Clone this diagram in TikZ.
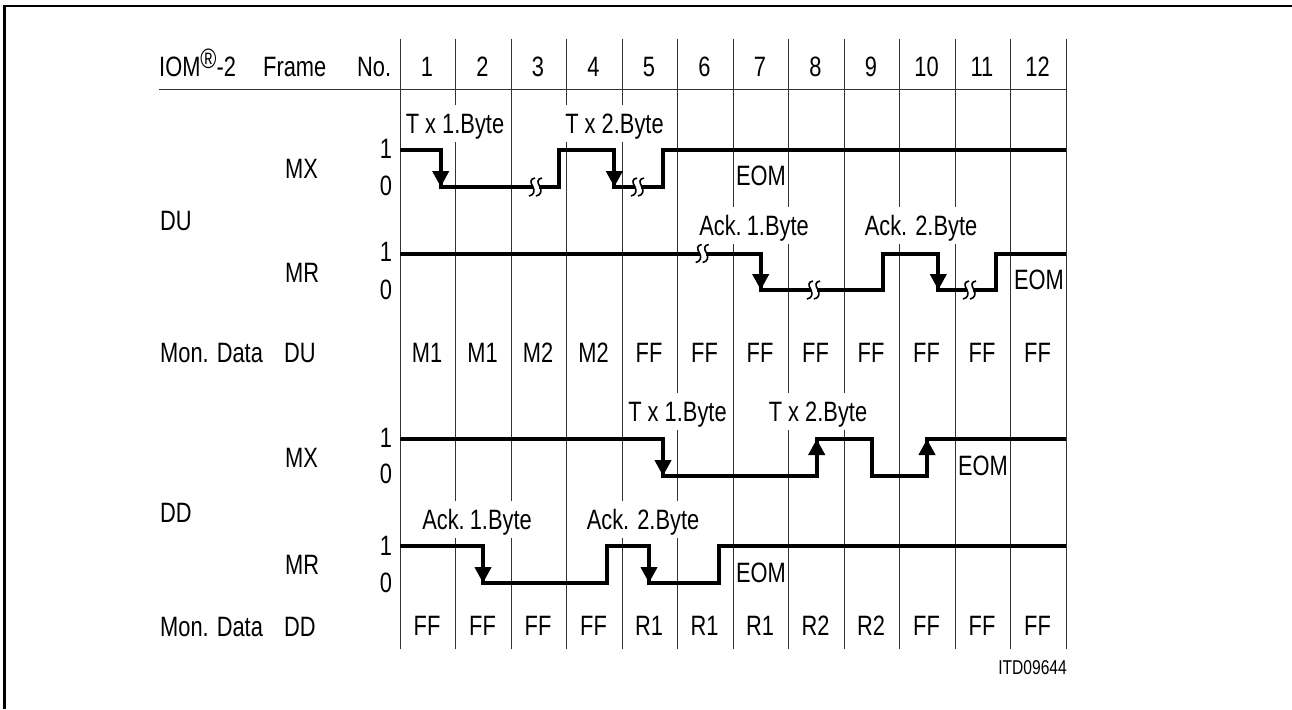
\documentclass[tikz,border=0pt]{standalone}
\usepackage{fontspec}
\setmainfont[FakeStretch=0.78]{Liberation Sans}
\usetikzlibrary{arrows.meta}
\begin{document}
\begin{tikzpicture}[
	x=1pt, y=-1pt,
	gridline/.style = {line width=1pt, black!80},
	signal/.style   = {line width=4pt, line join=miter, line cap=butt},
	edge_tip/.style = {-{Triangle[width=16pt,length=16pt]}, line width=4pt, shorten >=-1pt},
	txt/.style      = {font=\fontsize{28}{28}\selectfont, inner sep=0pt, text height=20pt, text depth=0pt},
	rowlabel/.style = {txt, anchor=west},
	bytelabel/.style = {txt, fill=white, inner xsep=2pt, minimum height=37pt},
	brk/.pic = {
		\fill[white] (-3,-6) rectangle (3,6);
		\draw[line width=1.6pt] (-1,-9) .. controls (-6,-8) and (-6,-5) .. (-3,0) .. controls (-1,4) and (-2,8) .. (-7,9);
		\draw[line width=1.6pt] (6,-9) .. controls (1,-8) and (1,-5) .. (4,0) .. controls (6,4) and (5,8) .. (0,9);
	}
	]
	\useasboundingbox (0,0) rectangle (1292,709);
	\draw[line width=2.4pt] (4.5,709) -- (4.5,6) -- (1292,6);

	% grid
	\foreach \i in {0,...,12} {
		\draw[gridline] ({400+55.5*\i},39) -- ({400+55.5*\i},649);
	}
	\draw[gridline] (159,89) -- (1066,89);

	% header
	\node[rowlabel] (iom) at (159,66.5) {IOM\raisebox{8pt}{®}-2};
	\node[rowlabel] (frame) at (263,66.5) {Frame};
	\node[rowlabel] (no) at (357,66.5) {No.};
	\foreach \i in {1,...,12} {
		\node[txt] (num\i) at ({371.5+55.5*\i},66.5) {\i};
	}

	% row labels
	\node[rowlabel] (mx_du) at (285,168.5) {MX};
	\node[rowlabel] (du) at (160,220) {DU};
	\node[rowlabel] (mr_du) at (285,272) {MR};
	\node[rowlabel] (mon_du) at (160,352) {Mon. Data};
	\node[rowlabel] (mon_du2) at (284,352) {DU};
	\node[rowlabel] (mx_dd) at (285,457.5) {MX};
	\node[rowlabel] (dd) at (160,512.5) {DD};
	\node[rowlabel] (mr_dd) at (285,564) {MR};
	\node[rowlabel] (mon_dd) at (160,626) {Mon. Data};
	\node[rowlabel] (mon_dd2) at (284,626) {DD};

	% levels
	\foreach \n/\y/\t in {a/148/1,b/185/0,c/251.5/1,d/289/0,e/437/1,f/473.5/0,g/545/1,h/582/0} {
		\node[txt] (lvl\n) at (386,\y) {\t};
	}

	% data rows
	\foreach \i/\t in {1/M1,2/M1,3/M2,4/M2,5/FF,6/FF,7/FF,8/FF,9/FF,10/FF,11/FF,12/FF} {
		\node[txt] (du\i) at ({371.5+55.5*\i},352) {\t};
	}
	\foreach \i/\t in {1/FF,2/FF,3/FF,4/FF,5/R1,6/R1,7/R1,8/R2,9/R2,10/FF,11/FF,12/FF} {
		\node[txt] (dd\i) at ({371.5+55.5*\i},625.5) {\t};
	}

	% byte labels
	\node[bytelabel] (tx1_du) at (455,123) {T x 1.Byte};
	\node[bytelabel] (tx2_du) at (614.5,123) {T x 2.Byte};
	\node[bytelabel] (ack1_du) at (754,225.5) {Ack.\kern-3pt{} 1.Byte};
	\node[bytelabel] (ack2_du) at (921,225.5) {Ack. 2.Byte};
	\node[bytelabel] (tx1_dd) at (677.5,411.5) {T x 1.Byte};
	\node[bytelabel] (tx2_dd) at (818,411.5) {T x 2.Byte};
	\node[bytelabel] (ack1_dd) at (477,519) {Ack.\kern-3pt{} 1.Byte};
	\node[bytelabel] (ack2_dd) at (643,519) {Ack. 2.Byte};
	\node[txt] (eom1) at (761,175) {EOM};
	\node[txt] (eom2) at (1039,279) {EOM};
	\node[txt] (eom3) at (983,465) {EOM};
	\node[txt] (eom4) at (761,572.5) {EOM};
	\node[txt, font=\fontsize{20}{20}\selectfont, text height=14pt, anchor=east] (itd) at (1067,667) {ITD09644};

	% DU signals
	\draw[signal] (400,150) -| (440.7,187) -| (559.3,150) -| (614.3,187) -| (663,150) -- (1066,150);
	\draw[signal] (400,253.5) -| (760.7,290) -| (883,253.5) -| (938.3,290) -| (996,253.5) -- (1066,253.5);
	% DD signals
	\draw[signal] (400,439) -| (663,475.7) -| (816.7,439) -| (872,475.7) -| (927,439) -- (1066,439);
	\draw[signal] (400,545.7) -| (483,582.7) -| (607,545.7) -| (649,582.7) -| (718.7,545.7) -- (1066,545.7);

	% edges with tips
	\foreach \x/\a/\b in {440.7/150/186,614.3/150/186,760.7/253.5/289,938.3/253.5/289,
		663/439/475,816.7/475.7/440,927/475.7/440,483/545.7/582,649/545.7/582} {
		\draw[edge_tip] (\x,\a) -- (\x,\b);
	}

	% line breaks
	\foreach \x/\y in {536/187,638/187,702.7/253.5,814/290,970/290} {
		\pic at (\x,\y) {brk};
	}
\end{tikzpicture}
\end{document}
